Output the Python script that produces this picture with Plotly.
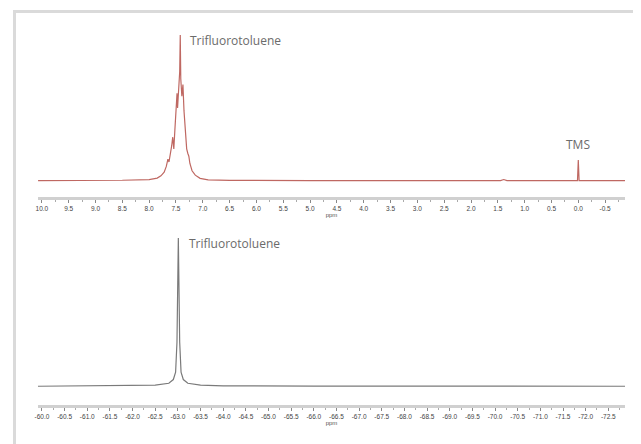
import plotly.graph_objects as go

# Page body has an 8px margin; the figure is sized so that it fills the 641x444 window.
WIN_W, WIN_H = 641, 444
OFF = 8
W, H = WIN_W - OFF, WIN_H - OFF

# ---- 1H spectrum (top): ppm vs relative intensity ----
h_ppm = [10.07, 9.5, 9.0, 8.5, 8.0, 7.85, 7.78, 7.72, 7.68, 7.65, 7.63, 7.61, 7.58,
         7.56, 7.54, 7.52, 7.50, 7.48, 7.47, 7.45, 7.43, 7.42, 7.41, 7.39, 7.37,
         7.35, 7.33, 7.31, 7.30, 7.28, 7.26, 7.24, 7.20, 7.14, 7.05, 6.9, 6.5,
         5.0, 3.0, 1.45, 1.39, 1.33, 0.5, 0.015, 0.0, -0.015, -0.87]
h_int = [0.3, 0.3, 0.4, 0.5, 1.0, 2.0, 3.5, 6, 10, 15, 13, 17, 24,
         30, 22, 35, 52, 60, 50, 62, 75, 100, 70, 58, 66,
         48, 35, 26, 22, 19, 17, 12, 7, 4, 1.8, 0.8, 0.4,
         0.3, 0.3, 0.3, 1.0, 0.3, 0.3, 0.3, 14.4, 0.3, 0.3]

# ---- 19F spectrum (bottom) ----
f_ppm = [-59.91, -61.0, -62.0, -62.5, -62.8, -62.9, -62.95, -62.98, -63.01,
         -63.04, -63.07, -63.12, -63.22, -63.5, -64.0, -66.0, -72.87]
f_int = [0.5, 0.6, 0.8, 1.2, 2.5, 5, 10, 30, 100, 30, 10, 5, 2.5, 1.2, 0.8, 0.6, 0.5]

h_ticks = [10.0, 9.5, 9.0, 8.5, 8.0, 7.5, 7.0, 6.5, 6.0, 5.5, 5.0, 4.5, 4.0, 3.5,
           3.0, 2.5, 2.0, 1.5, 1.0, 0.5, 0.0, -0.5]
h_ticktext = ["10.0", "9.5", "9.0", "8.5", "8.0", "7.5", "7.0", "6.5", "6.0", "5.5",
              "5.0", "4.5", "4.0", "3.5", "3.0", "2.5", "2.0", "1.5", "1.0", "0.5",
              "0.0", "-0.5"]
f_ticks = [-60.0, -60.5, -61.0, -61.5, -62.0, -62.5, -63.0, -63.5, -64.0, -64.5,
           -65.0, -65.5, -66.0, -66.5, -67.0, -67.5, -68.0, -68.5, -69.0, -69.5,
           -70.0, -70.5, -71.0, -71.5, -72.0, -72.5]
f_ticktext = ["%.1f" % v for v in f_ticks]

fig = go.Figure()
fig.add_trace(go.Scatter(x=h_ppm, y=h_int, mode="lines", xaxis="x", yaxis="y",
                         line=dict(color="#bf6862", width=1.2), showlegend=False))
fig.add_trace(go.Scatter(x=f_ppm, y=f_int, mode="lines", xaxis="x2", yaxis="y2",
                         line=dict(color="#7a7a7a", width=1.2), showlegend=False))


def px(x):
    return (x - OFF) / W


def py(y):
    return 1 - (y - OFF) / H


tickfont = dict(family="Liberation Sans Narrow, Liberation Sans, Arial", size=6.5, color="#444444")
common_x = dict(showgrid=False, zeroline=False, showline=True, linecolor="#d0d0d0",
                linewidth=3, ticks="outside", ticklen=3, tickwidth=1, tickcolor="#888888",
                tickfont=tickfont, minor=dict(ticks="outside", ticklen=2, dtick=0.25,
                                              tickcolor="#aaaaaa"),
                title=dict(text="ppm", font=dict(family="Liberation Sans", size=6, color="#555555"),
                           standoff=1))

fig.update_layout(
    width=W, height=H, margin=dict(l=0, r=0, t=0, b=0),
    paper_bgcolor="white", plot_bgcolor="white",
    xaxis=dict(domain=[px(35), px(625)], range=[10.074, -0.872], anchor="y",
               tickvals=h_ticks, ticktext=h_ticktext, **common_x),
    yaxis=dict(domain=[py(197), py(30)], range=[-10.96, 103.4], visible=False),
    xaxis2=dict(domain=[px(35), px(625)], range=[-59.91, -72.87], anchor="y2",
                tickvals=f_ticks, ticktext=f_ticktext, **common_x),
    yaxis2=dict(domain=[py(405), py(233)], range=[-12.1, 103.4], visible=False),
    annotations=[
        dict(x=7.42, y=100, xref="x", yref="y", text="Trifluorotoluene", showarrow=False,
             xanchor="left", yanchor="middle", xshift=8, yshift=-6,
             font=dict(family="Open Sans", size=12, color="#6b6b6b")),
        dict(x=0.0, y=14.4, xref="x", yref="y", text="TMS", showarrow=False,
             xanchor="center", yanchor="middle", yshift=15,
             font=dict(family="Open Sans", size=12, color="#6b6b6b")),
        dict(x=-63.01, y=100, xref="x2", yref="y2", text="Trifluorotoluene", showarrow=False,
             xanchor="left", yanchor="middle", xshift=9, yshift=-5,
             font=dict(family="Open Sans", size=12, color="#6b6b6b")),
    ],
    shapes=[
        dict(type="line", xref="paper", yref="paper", x0=px(11.5), y0=0, x1=px(11.5), y1=py(11.5),
             line=dict(color="#dadada", width=3)),
        dict(type="line", xref="paper", yref="paper", x0=px(10), y0=py(11.5), x1=1, y1=py(11.5),
             line=dict(color="#dadada", width=3)),
    ],
)

fig.write_html("out.html")
